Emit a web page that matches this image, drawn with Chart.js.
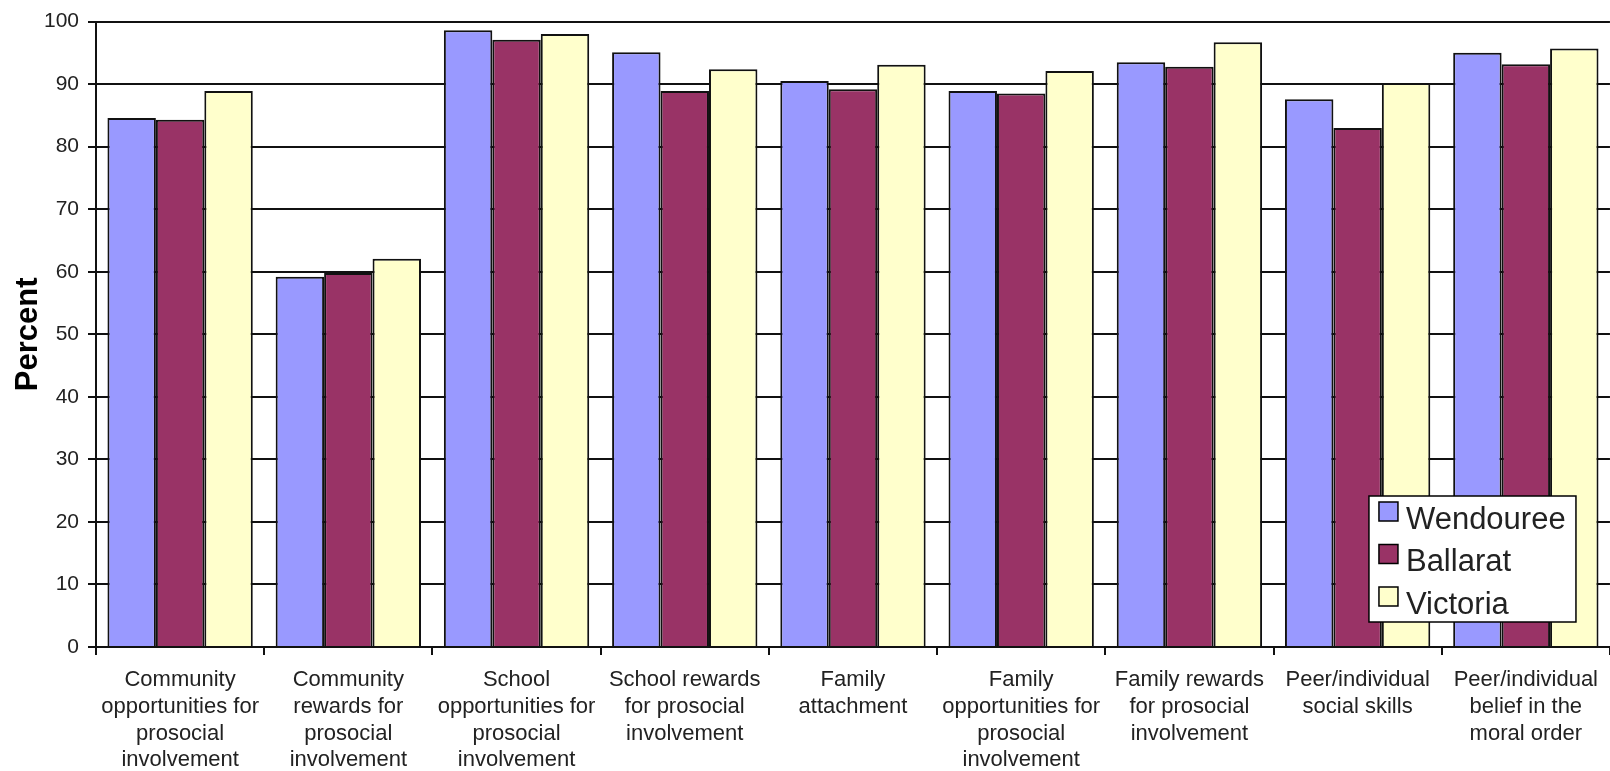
<!DOCTYPE html>
<html>
<head>
<meta charset="utf-8">
<script src="https://cdn.jsdelivr.net/npm/chart.js@4.4.1/dist/chart.umd.min.js"></script>
<style>
  html, body { margin: 0; padding: 0; background: #fff; }
  #wrap { width: 1610px; height: 771px; position: relative; }
</style>
</head>
<body>
<div id="wrap"><canvas id="chart"></canvas></div>
<script>
const categorias = [
  ["Community", "opportunities for", "prosocial", "involvement"],
  ["Community", "rewards for", "prosocial", "involvement"],
  ["School", "opportunities for", "prosocial", "involvement"],
  ["School rewards", "for prosocial", "involvement"],
  ["Family", "attachment"],
  ["Family", "opportunities for", "prosocial", "involvement"],
  ["Family rewards", "for prosocial", "involvement"],
  ["Peer/individual", "social skills"],
  ["Peer/individual", "belief in the", "moral order"]
];
const wendouree = [84.6, 59.2, 98.6, 95.1, 90.5, 88.9, 93.5, 87.6, 95.0];
const ballarat = [84.3, 59.8, 97.1, 88.9, 89.2, 88.5, 92.8, 83.0, 93.2];
const victoria = [88.9, 62.1, 98.0, 92.4, 93.1, 92.1, 96.7, 90.2, 95.7];
const series = ["Wendouree", "Ballarat", "Victoria"];
const yTicks = [0, 10, 20, 30, 40, 50, 60, 70, 80, 90, 100];

const colores = ["#9999FF", "#993366", "#FFFFCC"];
const fuente = "'Liberation Sans', Arial, sans-serif";

// leyenda dibujada dentro del area del grafico
const leyendaCaja = {
  id: "leyendaCaja",
  afterDraw(chart) {
    const ctx = chart.ctx;
    const area = chart.chartArea;
    const w = 207, h = 126;
    const x = area.right - 34 - w;
    const y = area.bottom - 25 - h;
    ctx.save();
    ctx.fillStyle = "#fff";
    ctx.strokeStyle = "#000";
    ctx.lineWidth = 1.5;
    ctx.fillRect(x, y, w, h);
    ctx.strokeRect(x, y, w, h);
    ctx.font = "31px " + fuente;
    ctx.textBaseline = "middle";
    chart.data.datasets.forEach((ds, i) => {
      const sy = y + 6 + i * 42.5;
      ctx.fillStyle = ds.backgroundColor;
      ctx.fillRect(x + 10, sy, 19, 19);
      ctx.strokeRect(x + 10, sy, 19, 19);
      ctx.fillStyle = "#222";
      ctx.fillText(ds.label, x + 37, sy + 18);
    });
    ctx.restore();
  }
};

const valores = [wendouree, ballarat, victoria];

new Chart(document.getElementById("chart"), {
  type: "bar",
  data: {
    labels: categorias,
    datasets: series.map((s, i) => ({
      label: s,
      data: valores[i],
      backgroundColor: colores[i],
      borderColor: "#111",
      borderWidth: 2,
      barPercentage: 1.0,
      categoryPercentage: 0.864
    }))
  },
  options: {
    responsive: true,
    maintainAspectRatio: false,
    animation: false,
    layout: { padding: { left: 0, right: 0, top: 10, bottom: 0 } },
    plugins: {
      legend: { display: false },
      tooltip: { enabled: false }
    },
    scales: {
      x: {
        afterFit: (scale) => { scale.height = 124; },
        grid: {
          drawOnChartArea: false,
          drawTicks: true,
          tickLength: 8,
          color: "#111",
          lineWidth: 2
        },
        border: { color: "#111", width: 2 },
        ticks: {
          autoSkip: false,
          maxRotation: 0,
          color: "#222",
          padding: 12,
          font: { family: fuente, size: 22, lineHeight: 1.213 }
        }
      },
      y: {
        min: 0,
        max: 100,
        afterFit: (scale) => { scale.width = 96; },
        afterBuildTicks: (scale) => { scale.ticks = yTicks.map(v => ({ value: v })); },
        grid: {
          color: "#111",
          lineWidth: 2,
          tickLength: 8
        },
        border: { color: "#111", width: 2 },
        ticks: {
          color: "#222",
          padding: 9,
          font: { family: fuente, size: 21 }
        },
        title: {
          display: true,
          text: "Percent",
          color: "#000",
          padding: { top: 10, bottom: 0 },
          font: { family: fuente, size: 31, weight: "bold" }
        }
      }
    }
  },
  plugins: [leyendaCaja]
});
</script>
</body>
</html>
